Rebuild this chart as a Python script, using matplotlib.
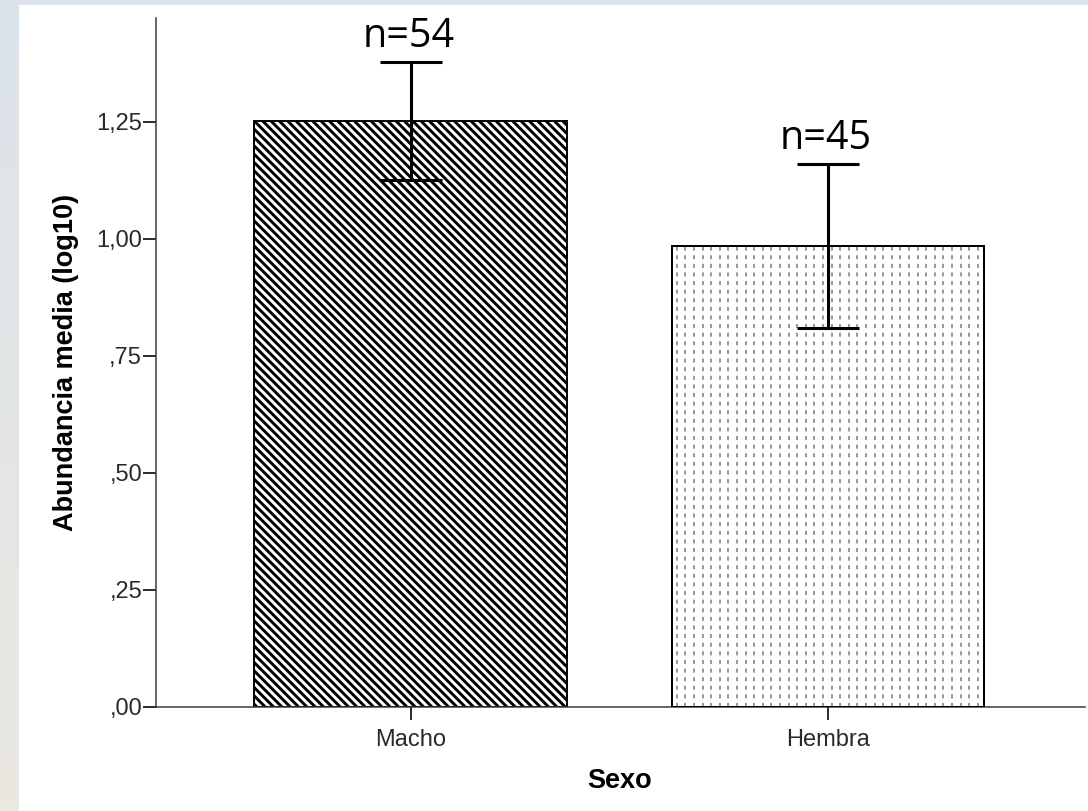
import numpy as np
import matplotlib
matplotlib.use("Agg")
import matplotlib.pyplot as plt
from matplotlib.ticker import FixedLocator, FuncFormatter
from matplotlib.patches import Rectangle

# Data
categories = ["Macho", "Hembra"]
means = [1.252, 0.985]
errors = [0.126, 0.176]
counts = [54, 45]
yticks = [0.0, 0.25, 0.5, 0.75, 1.0, 1.25]

plt.rcParams["hatch.linewidth"] = 2.1
plt.rcParams["lines.scale_dashes"] = False

W, H, DPI = 1088, 811, 100
fig = plt.figure(figsize=(W / DPI, H / DPI), dpi=DPI)
fig.patch.set_facecolor("#e4e7ea")

# Soft backdrop strip along the left/top edge, then the white panel
bg = fig.add_axes([0, 0, 1, 1], zorder=-10)
grad = np.linspace(0, 1, 200)[:, None]
top_col = np.array([0.86, 0.89, 0.92])
bot_col = np.array([0.92, 0.91, 0.88])
img = top_col[None, None, :] * (1 - grad[..., None]) + bot_col[None, None, :] * grad[..., None]
img = np.repeat(img, 2, axis=1)
bg.imshow(img, aspect="auto", extent=[0, 1, 0, 1], origin="upper")
bg.add_patch(Rectangle((19 / W, 0), 1, 1 - 5 / H, facecolor="white", edgecolor="none"))
bg.set_xlim(0, 1)
bg.set_ylim(0, 1)
bg.axis("off")

left, right = 156 / W, 1085 / W
bottom, top = 1 - 707 / H, 1 - 18 / H
ax = fig.add_axes([left, bottom, right - left, top - bottom])
ax.set_facecolor("none")

x = np.arange(len(categories))
bar_w = 0.75
xlim = (-0.611, 1.616)
ax.set_xlim(*xlim)
ax.set_ylim(0, 1.472)

bars = ax.bar(x, means, width=bar_w, facecolor="white", edgecolor="black",
              linewidth=1.4, zorder=2)
bars[0].set_hatch("\\\\\\\\")

# Dotted vertical texture for the second bar
b = bars[1]
ax_w_px = (right - left) * W
step = 8.6 * (xlim[1] - xlim[0]) / ax_w_px
xs = np.arange(b.get_x() + step * 0.6, b.get_x() + b.get_width(), step)
vl = ax.vlines(xs, 0, b.get_height(), colors="#8f8f8f", linewidth=1.3,
               linestyles=[(0, (2.9, 3.3))], zorder=2.5)
vl.set_clip_path(b)
ax.add_patch(Rectangle((b.get_x(), 0), b.get_width(), b.get_height(),
                       facecolor="none", edgecolor="black", linewidth=1.4, zorder=3))

ax.errorbar(x, means, yerr=errors, fmt="none", ecolor="black", elinewidth=2.2,
            capsize=22.3, capthick=2.2, zorder=4)

for xi, m, e, n in zip(x, means, errors, counts):
    ax.annotate(f"n={n}", (xi, m + e), xytext=(-1.6, 10.8), textcoords="offset points",
                ha="center", va="baseline", fontsize=28.5, family="Open Sans",
                color="black")

for s in ["top", "right"]:
    ax.spines[s].set_visible(False)
for s in ["left", "bottom"]:
    ax.spines[s].set_color("#3a3a3a")
    ax.spines[s].set_linewidth(1.1)

ax.yaxis.set_major_locator(FixedLocator(yticks))

def spss_fmt(v, pos):
    s = f"{v:.2f}".replace(".", ",")
    return s[1:] if s.startswith("0") else s

ax.yaxis.set_major_formatter(FuncFormatter(spss_fmt))
ax.set_xticks(x)
ax.set_xticklabels(categories)
ax.tick_params(axis="both", direction="out", length=9.5, width=1.4, color="#2a2a2a",
               labelsize=17, labelcolor="#2a2a2a")
ax.tick_params(axis="x", pad=6.5)
ax.tick_params(axis="y", pad=0.5)
for lab in ax.get_xticklabels() + ax.get_yticklabels():
    lab.set_family("Liberation Sans")

ax.set_ylabel("Abundancia media (log10)", fontsize=19.5, fontweight="bold",
              family="Liberation Sans", va="center")
ax.yaxis.set_label_coords((66 - 156) / 929, 0.5)
ax.set_xlabel("Sexo", fontsize=19.5, fontweight="bold", family="Liberation Sans",
              va="center")
ax.xaxis.set_label_coords((620 - 156) / 929, (707 - 781) / 689)

fig.savefig("out.png", dpi=DPI)
